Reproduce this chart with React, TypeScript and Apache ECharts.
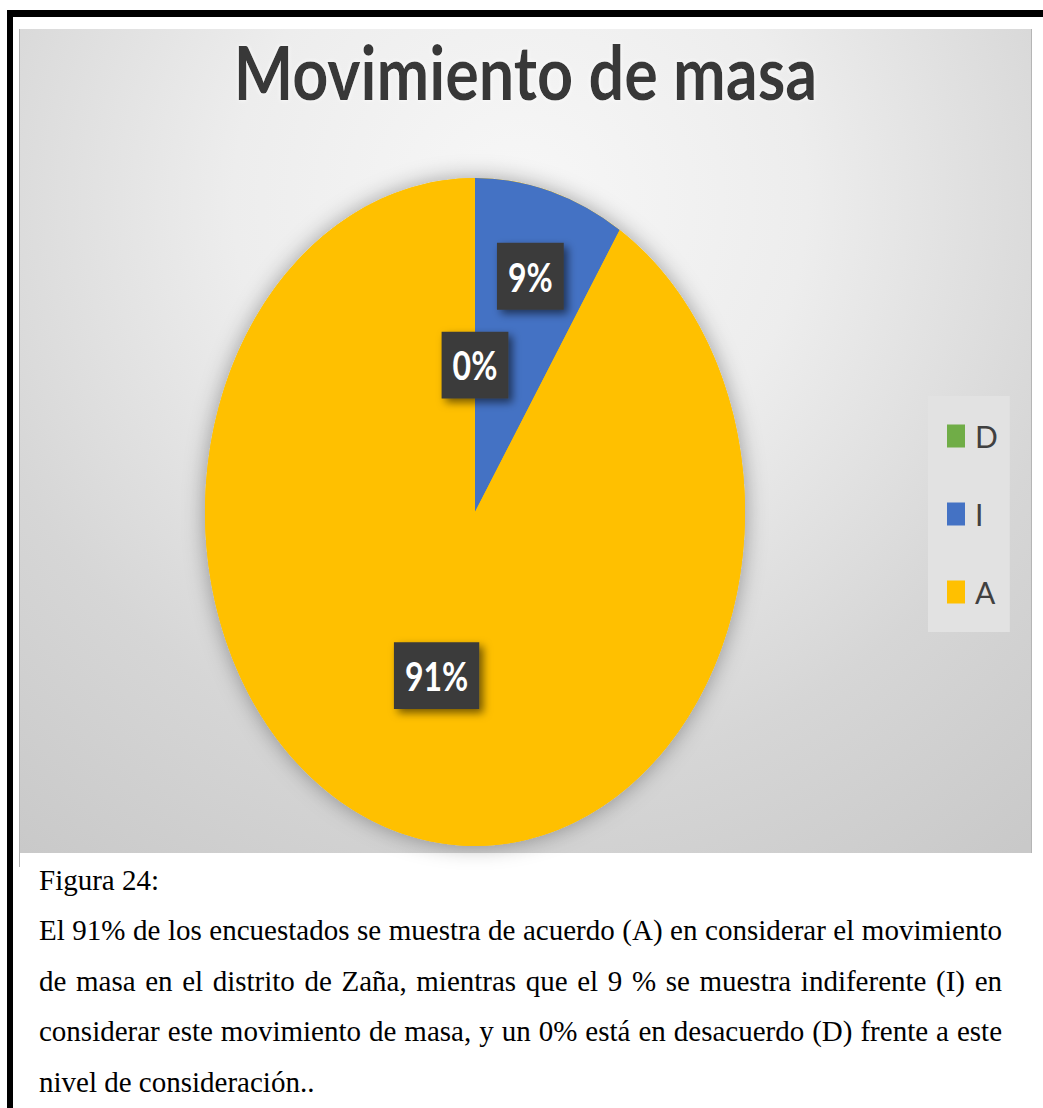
import React, { useEffect, useRef } from "react";
import * as echarts from "echarts";

// ---- data ----
const categories = ["D", "I", "A"];
const values = [0, 9, 91];
const sliceColors = ["#70AD47", "#4472C4", "#FFC000"];
const titleText = "Movimiento de masa";
const captionHeading = "Figura 24:";
const captionLines = [
  "El 91% de los encuestados se muestra de acuerdo (A) en considerar el movimiento",
  "de masa en el distrito de Zaña, mientras que el 9 % se muestra indiferente (I) en",
  "considerar este movimiento de masa, y un 0% está en desacuerdo (D) frente a este",
  "nivel de consideración..",
];

// ---- layout ----
const W = 1043;
const H = 1108;
const PIE_CX = 475;
const PIE_CY = 512;
const PIE_R = 270;
const PIE_SY = 1.237;
const labelRadiusFrac: Record<string, number> = { D: 0.44, I: 0.735, A: 0.51 };
const CAP_LEFT = 39;
const CAP_RIGHT = 1002;
const CAP_FONT_SIZE = 29;
const CAP_FONT = "'Liberation Serif', serif";
const capBaselines = [889.5, 940, 990.7, 1041, 1091.7];

function measure(text: string, font: string): number {
  const c = document.createElement("canvas").getContext("2d")!;
  c.font = font;
  return c.measureText(text).width;
}

export default function App() {
  const ref = useRef<HTMLDivElement>(null);

  useEffect(() => {
    if (!ref.current) return;
    const chart = echarts.init(ref.current, undefined, { renderer: "svg" });
    const total = values.reduce((a, b) => a + b, 0);

    const capFontCss = `${CAP_FONT_SIZE}px 'Liberation Serif'`;
    const central = CAP_FONT_SIZE * 0.3375;
    const captionEls: any[] = [];
    captionEls.push({
      type: "text",
      x: CAP_LEFT,
      y: capBaselines[0] - central,
      style: {
        text: captionHeading,
        fill: "#000",
        fontSize: CAP_FONT_SIZE,
        fontFamily: CAP_FONT,
        align: "left",
        verticalAlign: "middle",
      },
    });
    captionLines.forEach((line, li) => {
      const y = capBaselines[li + 1] - central;
      const justify = li < captionLines.length - 1;
      const words = line.split(" ");
      const widths = words.map((w) => measure(w, capFontCss));
      const sum = widths.reduce((a, b) => a + b, 0);
      const gap = justify
        ? (CAP_RIGHT - CAP_LEFT - sum) / (words.length - 1)
        : measure(" ", capFontCss);
      let x = CAP_LEFT;
      words.forEach((w, k) => {
        captionEls.push({
          type: "text",
          x,
          y,
          style: {
            text: w,
            fill: "#000",
            fontSize: CAP_FONT_SIZE,
            fontFamily: CAP_FONT,
            align: "left",
            verticalAlign: "middle",
          },
        });
        x += widths[k] + gap;
      });
    });

    const titleFontSize = 60;
    const titleW = measure(titleText, `bold ${titleFontSize}px Lato`);
    const titleScaleX = 584 / titleW;

    const series = categories.map((name, i) => ({
      type: "custom",
      name,
      coordinateSystem: "none",
      data: [values[i]],
      itemStyle: { color: sliceColors[i] },
      renderItem: (params: any, api: any) => {
        const v = api.value(0);
        let cum = 0;
        for (let k = 0; k < i; k++) cum += values[k];
        const start = -Math.PI / 2 + (cum / total) * Math.PI * 2;
        const end = start + (v / total) * Math.PI * 2;
        const mid = (start + end) / 2;
        const fr = labelRadiusFrac[name];
        const children: any[] = [];
        if (i === 0) {
          children.push({
            type: "circle",
            shape: { cx: 0, cy: 0, r: PIE_R },
            z2: -10,
            style: {
              fill: sliceColors[2],
              shadowBlur: 22,
              shadowColor: "rgba(0,0,0,0.35)",
            },
          });
        }
        if (v > 0) {
          children.push({
            type: "sector",
            shape: {
              cx: 0,
              cy: 0,
              r0: 0,
              r: PIE_R,
              startAngle: start,
              endAngle: end,
              clockwise: true,
            },
            z2: 0,
            style: { fill: api.visual("color") },
          });
        }
        children.push({
          type: "text",
          x: PIE_R * fr * Math.cos(mid),
          y: PIE_R * fr * Math.sin(mid),
          z2: 100,
          style: {
            text: Math.round((v / total) * 100) + "%",
            fill: "#ffffff",
            fontSize: 32,
            fontWeight: "bold",
            fontFamily: "Lato",
            align: "center",
            verticalAlign: "middle",
            backgroundColor: "#3b3b3b",
            padding: [11, 11, 11, 11],
            shadowBlur: 8,
            shadowColor: "rgba(0,0,0,0.55)",
            shadowOffsetX: 4,
            shadowOffsetY: 4,
          },
        });
        return {
          type: "group",
          x: PIE_CX,
          y: PIE_CY,
          scaleY: PIE_SY,
          children,
        };
      },
    }));

    chart.setOption({
      animation: false,
      backgroundColor: "#ffffff",
      legend: {
        data: categories,
        orient: "vertical",
        left: 928,
        top: 396,
        icon: "rect",
        itemWidth: 18,
        itemHeight: 23,
        itemGap: 48,
        padding: [25, 12, 25, 19],
        backgroundColor: "#e2e2e2",
        selectedMode: false,
        textStyle: {
          fontSize: 30,
          lineHeight: 30,
          fontFamily: "Lato",
          color: "#404040",
          padding: [0, 0, 0, 5],
        },
      },
      graphic: [
        // black frame
        { type: "rect", shape: { x: 7, y: 10, width: W - 7, height: 7 }, style: { fill: "#000" } },
        { type: "rect", shape: { x: 7, y: 10, width: 6, height: H - 10 }, style: { fill: "#000" } },
        // chart area background
        {
          type: "rect",
          shape: { x: 19, y: 29, width: 1013, height: 824 },
          style: {
            fill: new echarts.graphic.RadialGradient(
              520,
              200,
              820,
              [
                { offset: 0, color: "#f7f7f7" },
                { offset: 0.35, color: "#ededed" },
                { offset: 0.7, color: "#d6d6d6" },
                { offset: 1, color: "#c9c9c9" },
              ],
              true
            ),
          },
        },
        { type: "line", shape: { x1: 19.5, y1: 29, x2: 19.5, y2: 867 }, style: { stroke: "#b5b5b5", lineWidth: 1 } },
        { type: "line", shape: { x1: 1031.5, y1: 29, x2: 1031.5, y2: 853 }, style: { stroke: "#b5b5b5", lineWidth: 1 } },
        // title
        {
          type: "text",
          x: 525.5,
          y: 71.3,
          scaleX: titleScaleX,
          scaleY: PIE_SY,
          style: {
            text: titleText,
            fill: "#383838",
            fontSize: titleFontSize,
            fontWeight: "bold",
            fontFamily: "Lato",
            align: "center",
            verticalAlign: "middle",
            textShadowColor: "rgba(255,255,255,0.9)",
            textShadowBlur: 4,
          },
        },
        ...captionEls,
      ],
      series,
    } as any);

    return () => chart.dispose();
  }, []);

  return (
    <div
      ref={ref}
      style={{ position: "absolute", left: 0, top: 0, width: W, height: H }}
    />
  );
}
